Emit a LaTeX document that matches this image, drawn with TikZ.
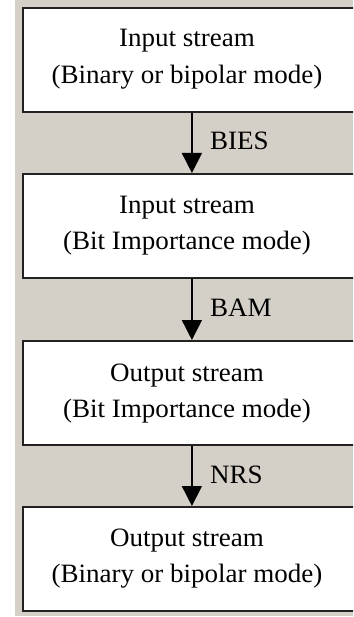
\documentclass[tikz,border=0pt]{standalone}
\usepackage{fontspec}
\setmainfont[FakeStretch=1.02]{Liberation Serif}
\usetikzlibrary{arrows.meta}
\definecolor{bg}{HTML}{D4D0C8}
\definecolor{edge}{HTML}{222222}
\begin{document}
\begin{tikzpicture}[x=1pt,y=-1pt,
  box/.style={draw=edge, line width=1.8pt, fill=white, inner sep=0pt,
    minimum width=338pt, minimum height=104pt, anchor=north west},
  lbl/.style={font=\fontsize{26.5}{30}\selectfont, inner sep=0pt, anchor=base},
  tag/.style={font=\fontsize{26.5}{30}\selectfont, inner sep=0pt, anchor=base west},
  flow/.style={line width=1.5pt, draw=black, -{Triangle[width=20pt,length=20pt]}}]
\useasboundingbox (0,0) rectangle (353,617);
\fill[white] (0,0) rectangle (353,617);
\fill[bg] (15,0) rectangle (353,616);
\clip (0,0) rectangle (353,617);
% boxes
\node[box] (b1) at (22,7) {};
\node[box] (b2) at (22,173) {};
\node[box] (b3) at (22,340) {};
\node[box] (b4) at (22,506) {};
% texts
\node[lbl] (t1a) at (187,46.7) {Input stream};
\node[lbl] (t1b) at (187,83.3) {(Binary or bipolar mode)};
\node[lbl] (t2a) at (187,214) {Input stream};
\node[lbl] (t2b) at (187,250) {(Bit Importance mode)};
\node[lbl] (t3a) at (187,381) {Output stream};
\node[lbl] (t3b) at (187,417) {(Bit Importance mode)};
\node[lbl] (t4a) at (187,546) {Output stream};
\node[lbl] (t4b) at (187,582) {(Binary or bipolar mode)};
% connectors
\draw[flow] (b1.south) -- (b2.north);
\draw[flow] (b2.south) -- (b3.north);
\draw[flow] (b3.south) -- (b4.north);
% connector labels
\node[tag] (l1) at (210,150) {BIES};
\node[tag] (l2) at (210,316) {BAM};
\node[tag] (l3) at (210,483) {NRS};
\end{tikzpicture}
\end{document}
